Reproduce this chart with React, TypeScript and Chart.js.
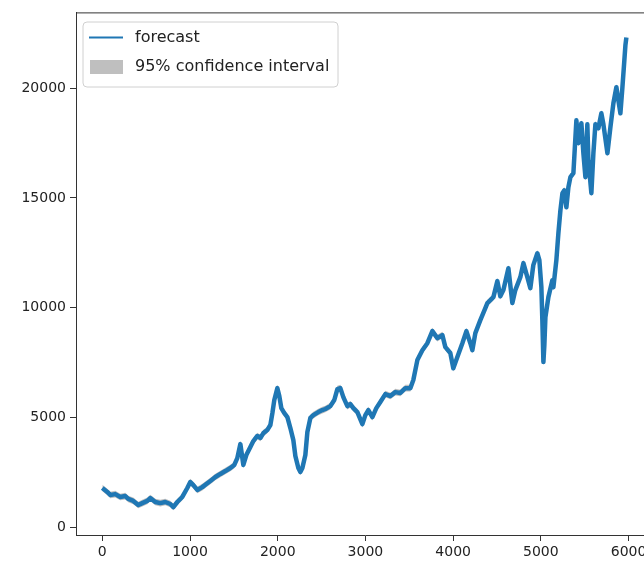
import React, { useEffect, useRef } from "react";
import { Chart, registerables } from "chart.js";

Chart.register(...registerables);

const xValues = [
  0, 57, 91, 148, 205, 262, 296, 353, 410, 456,
  513, 547, 604, 661, 718, 775, 810, 855, 912, 969,
  1003, 1038, 1083, 1140, 1186, 1232, 1289, 1346, 1403, 1460,
  1505, 1539, 1574, 1608, 1642, 1688, 1722, 1767, 1802, 1836,
  1881, 1916, 1939, 1961, 1996, 2018, 2041, 2075, 2110, 2144,
  2178, 2201, 2235, 2258, 2281, 2315, 2338, 2372, 2406, 2463,
  2509, 2543, 2600, 2645, 2680, 2714, 2748, 2794, 2828, 2862,
  2908, 2965, 2999, 3033, 3079, 3124, 3170, 3227, 3284, 3341,
  3398, 3455, 3512, 3546, 3592, 3649, 3706, 3763, 3820, 3877,
  3911, 3968, 4002, 4048, 4105, 4151, 4196, 4219, 4253, 4310,
  4367, 4390, 4424, 4459, 4504, 4538, 4573, 4630, 4675, 4709,
  4766, 4801, 4846, 4880, 4914, 4960, 4983, 5006, 5017, 5029,
  5040, 5052, 5086, 5131, 5143, 5177, 5200, 5223, 5246, 5268,
  5291, 5314, 5337, 5371, 5405, 5428, 5462, 5485, 5508, 5530,
  5542, 5576, 5599, 5622, 5656, 5690, 5713, 5759, 5793, 5827,
  5861, 5884, 5907, 5930, 5952, 5964, 5975,
];

const forecast = [
  1780, 1600, 1460, 1500, 1370, 1410, 1280, 1190, 1000, 1090,
  1190, 1320, 1140, 1090, 1140, 1050, 910, 1140, 1370, 1780,
  2050, 1910, 1690, 1820, 1960, 2100, 2280, 2420, 2550, 2690,
  2830, 3140, 3780, 2830, 3280, 3650, 3920, 4150, 4060, 4280,
  4420, 4650, 5190, 5790, 6330, 5970, 5420, 5190, 5010, 4510,
  3960, 3240, 2690, 2510, 2690, 3280, 4330, 4970, 5100, 5240,
  5330, 5380, 5510, 5790, 6290, 6330, 5920, 5510, 5600, 5420,
  5240, 4690, 5100, 5330, 5010, 5420, 5700, 6060, 5970, 6150,
  6110, 6330, 6330, 6700, 7610, 8060, 8380, 8930, 8610, 8750,
  8200, 7930, 7240, 7750, 8380, 8930, 8380, 8060, 8840, 9430,
  9980, 10210, 10340, 10480, 11210, 10520, 10800, 11800, 10210, 10800,
  11390, 12030, 11390, 10890, 11940, 12480, 12170, 10930, 9430, 7520,
  8290, 9570, 10480, 11250, 10930, 12170, 13400, 14440, 15220, 15350,
  14580, 15490, 15950, 16130, 18540, 17500, 18410, 17040, 15950, 18360,
  16720, 15220, 17040, 18360, 18180, 18860, 18360, 17040, 18220, 19320,
  20050, 19450, 18860, 20050, 21280, 21960, 22320,
];

const ciLower = [
  1630, 1450, 1310, 1350, 1220, 1260, 1130, 1040, 850, 940,
  1040, 1170, 990, 940, 990, 900, 760, 990, 1220, 1630,
  1900, 1760, 1540, 1670, 1810, 1950, 2130, 2270, 2400, 2540,
  2680, 2990, 3630, 2680, 3130, 3500, 3770, 4000, 3910, 4130,
  4270, 4500, 5040, 5640, 6180, 5820, 5270, 5040, 4860, 4360,
  3810, 3090, 2540, 2360, 2540, 3130, 4180, 4820, 4950, 5090,
  5180, 5230, 5360, 5640, 6140, 6180, 5770, 5360, 5450, 5270,
  5090, 4540, 4950, 5180, 4860, 5270, 5550, 5910, 5820, 6000,
  5960, 6180, 6180, 6550, 7460, 7910, 8230, 8780, 8460, 8600,
  8050, 7780, 7090, 7600, 8230, 8780, 8230, 7910, 8690, 9280,
  9830, 10060, 10190, 10330, 11060, 10370, 10650, 11650, 10060, 10650,
  11240, 11880, 11240, 10740, 11790, 12330, 12020, 10780, 9280, 7370,
  8140, 9420, 10330, 11100, 10780, 12020, 13250, 14290, 15070, 15200,
  14430, 15340, 15800, 15980, 18390, 17350, 18260, 16890, 15800, 18210,
  16570, 15070, 16890, 18210, 18030, 18710, 18210, 16890, 18070, 19170,
  19900, 19300, 18710, 19900, 21130, 21810, 22170,
];

const ciUpper = [
  1930, 1750, 1610, 1650, 1520, 1560, 1430, 1340, 1150, 1240,
  1340, 1470, 1290, 1240, 1290, 1200, 1060, 1290, 1520, 1930,
  2200, 2060, 1840, 1970, 2110, 2250, 2430, 2570, 2700, 2840,
  2980, 3290, 3930, 2980, 3430, 3800, 4070, 4300, 4210, 4430,
  4570, 4800, 5340, 5940, 6480, 6120, 5570, 5340, 5160, 4660,
  4110, 3390, 2840, 2660, 2840, 3430, 4480, 5120, 5250, 5390,
  5480, 5530, 5660, 5940, 6440, 6480, 6070, 5660, 5750, 5570,
  5390, 4840, 5250, 5480, 5160, 5570, 5850, 6210, 6120, 6300,
  6260, 6480, 6480, 6850, 7760, 8210, 8530, 9080, 8760, 8900,
  8350, 8080, 7390, 7900, 8530, 9080, 8530, 8210, 8990, 9580,
  10130, 10360, 10490, 10630, 11360, 10670, 10950, 11950, 10360, 10950,
  11540, 12180, 11540, 11040, 12090, 12630, 12320, 11080, 9580, 7670,
  8440, 9720, 10630, 11400, 11080, 12320, 13550, 14590, 15370, 15500,
  14730, 15640, 16100, 16280, 18690, 17650, 18560, 17190, 16100, 18510,
  16870, 15370, 17190, 18510, 18330, 19010, 18510, 17190, 18370, 19470,
  20200, 19600, 19010, 20200, 21430, 22110, 22470,
];

const xTicks = [0, 1000, 2000, 3000, 4000, 5000, 6000];
const yTicks = [0, 5000, 10000, 15000, 20000];
const legendLabels = ["forecast", "95% confidence interval"];

const BLUE = "#1f77b4";
const CI_FILL = "rgba(128,128,128,0.5)";
const AXIS = "#333333";
const FONT = "'DejaVu Sans', sans-serif";

export default function App() {
  const ref = useRef<HTMLCanvasElement>(null);

  useEffect(() => {
    if (!ref.current) return;
    const toPts = (ys: number[]) => xValues.map((x, i) => ({ x, y: ys[i] }));

    const framePlugin = {
      id: "frame",
      afterDraw(chart: any) {
        const { ctx, chartArea } = chart;
        ctx.save();
        ctx.strokeStyle = AXIS;
        ctx.lineWidth = 1;
        ctx.beginPath();
        ctx.moveTo(chartArea.left, chartArea.top + 0.5);
        ctx.lineTo(chartArea.right, chartArea.top + 0.5);
        ctx.moveTo(chartArea.right - 0.5, chartArea.top);
        ctx.lineTo(chartArea.right - 0.5, chartArea.bottom);
        ctx.stroke();

        // legend
        const bx = 83, by = 22, bw = 255, bh = 65, r = 4;
        ctx.fillStyle = "rgba(255,255,255,0.8)";
        ctx.strokeStyle = "#d0d0d0";
        ctx.beginPath();
        ctx.moveTo(bx + r, by);
        ctx.lineTo(bx + bw - r, by);
        ctx.quadraticCurveTo(bx + bw, by, bx + bw, by + r);
        ctx.lineTo(bx + bw, by + bh - r);
        ctx.quadraticCurveTo(bx + bw, by + bh, bx + bw - r, by + bh);
        ctx.lineTo(bx + r, by + bh);
        ctx.quadraticCurveTo(bx, by + bh, bx, by + bh - r);
        ctx.lineTo(bx, by + r);
        ctx.quadraticCurveTo(bx, by, bx + r, by);
        ctx.closePath();
        ctx.fill();
        ctx.stroke();

        ctx.strokeStyle = BLUE;
        ctx.lineWidth = 2;
        ctx.beginPath();
        ctx.moveTo(89, 37.5);
        ctx.lineTo(123, 37.5);
        ctx.stroke();

        ctx.fillStyle = CI_FILL;
        ctx.fillRect(90, 60, 33, 14);

        ctx.fillStyle = "#222";
        ctx.font = `16px ${FONT}`;
        ctx.textBaseline = "middle";
        ctx.textAlign = "left";
        ctx.fillText(legendLabels[0], 135, 38);
        ctx.fillText(legendLabels[1], 135, 67);
        ctx.restore();
      },
    };

    const chart = new Chart(ref.current, {
      type: "line",
      data: {
        datasets: [
          {
            label: legendLabels[0],
            data: toPts(forecast),
            borderColor: BLUE,
            borderWidth: 4.5,
            pointRadius: 0,
            fill: false,
            tension: 0,
            borderJoinStyle: "round",
          },
          {
            label: "ci lower",
            data: toPts(ciLower),
            borderColor: "rgba(0,0,0,0)",
            borderWidth: 0,
            pointRadius: 0,
            fill: false,
          },
          {
            label: legendLabels[1],
            data: toPts(ciUpper),
            borderColor: "rgba(0,0,0,0)",
            borderWidth: 0,
            pointRadius: 0,
            fill: "-1",
            backgroundColor: CI_FILL,
          },
        ],
      },
      options: {
        animation: false,
        responsive: false,
        devicePixelRatio: 1,
        layout: { padding: { top: 12, left: 0, right: 26, bottom: 0 } },
        plugins: { legend: { display: false }, tooltip: { enabled: false } },
        scales: {
          x: {
            type: "linear",
            min: -300,
            max: 6290,
            afterBuildTicks: (s: any) => {
              s.ticks = xTicks.map((v) => ({ value: v }));
            },
            afterFit: (s: any) => {
              s.height = 33;
            },
            grid: { drawOnChartArea: false, drawTicks: true, tickLength: 6, color: AXIS },
            border: { display: true, color: AXIS, width: 1 },
            ticks: {
              color: "#222",
              font: { family: FONT, size: 14 },
              padding: 3,
              maxRotation: 0,
              autoSkip: false,
              callback: (v: any) => String(v),
            },
          },
          y: {
            type: "linear",
            min: -364,
            max: 23460,
            afterBuildTicks: (s: any) => {
              s.ticks = yTicks.map((v) => ({ value: v }));
            },
            afterFit: (s: any) => {
              s.width = 76;
            },
            grid: { drawOnChartArea: false, drawTicks: true, tickLength: 6, color: AXIS },
            border: { display: true, color: AXIS, width: 1 },
            ticks: {
              color: "#222",
              font: { family: FONT, size: 14 },
              padding: 4,
              autoSkip: false,
              callback: (v: any) => String(v),
            },
          },
        },
      },
      plugins: [framePlugin],
    } as any);

    return () => chart.destroy();
  }, []);

  return (
    <div
      style={{
        position: "absolute",
        left: 0,
        top: 0,
        width: 644,
        height: 568,
        overflow: "hidden",
        background: "#fff",
      }}
    >
      <canvas ref={ref} width={680} height={568} style={{ display: "block" }} />
    </div>
  );
}
